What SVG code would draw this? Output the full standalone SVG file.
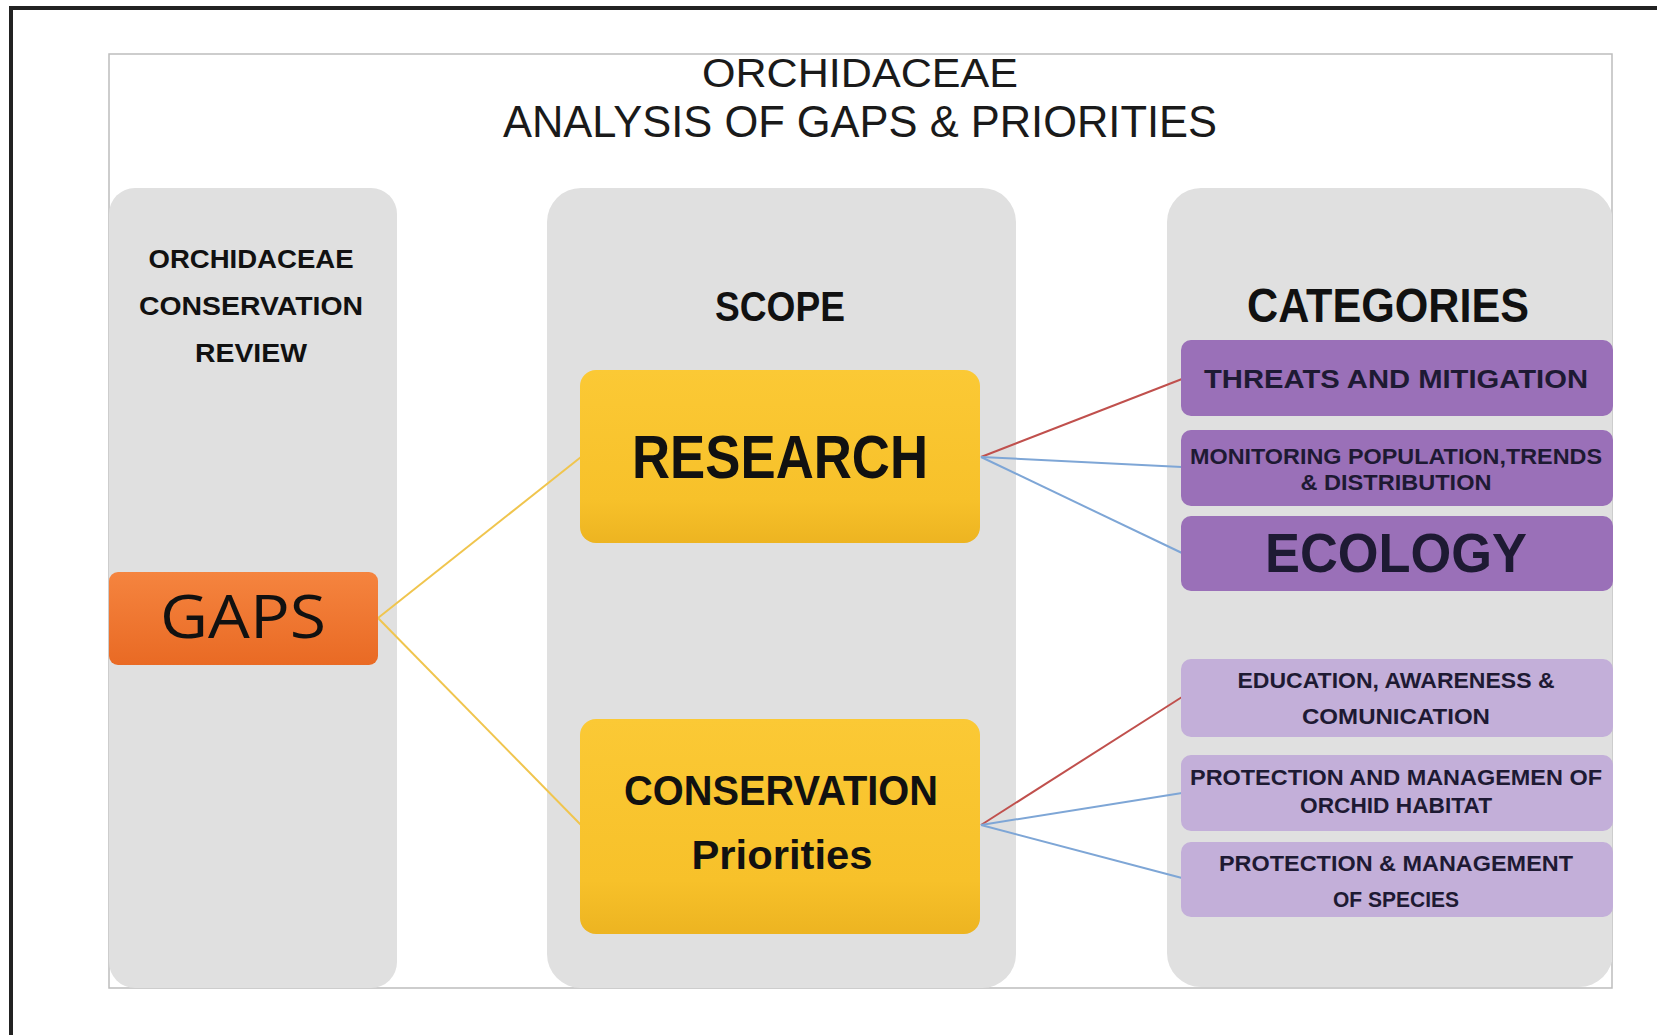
<svg xmlns="http://www.w3.org/2000/svg" width="1657" height="1035" viewBox="0 0 1657 1035">
  <defs>
    <linearGradient id="gOrange" x1="0" y1="0" x2="0" y2="1">
      <stop offset="0" stop-color="#F5843F"/>
      <stop offset="1" stop-color="#E96A24"/>
    </linearGradient>
    <linearGradient id="gYellow" x1="0" y1="0" x2="0" y2="1">
      <stop offset="0" stop-color="#FBC935"/>
      <stop offset="0.75" stop-color="#F7C12A"/>
      <stop offset="1" stop-color="#EDB421"/>
    </linearGradient>
    <clipPath id="panelClip">
      <rect x="109" y="54" width="1503" height="934"/>
    </clipPath>
  </defs>
  <style>
    .col { fill: #E0E0E0; }
    .hdr { font-family: "Liberation Sans", Arial, sans-serif; font-weight: bold; fill: #111; text-anchor: middle; }
    .title { font-family: "Liberation Sans", Arial, sans-serif; fill: #1a1a1a; text-anchor: middle; }
    .cat { font-family: "Liberation Sans", Arial, sans-serif; font-weight: bold; fill: #1E1A33; text-anchor: middle; }
    .dark { fill: #9A70B8; }
    .light { fill: #C3AFD9; }
    .link { fill: none; stroke-width: 2; }
    .gold { stroke: #F0C54E; }
    .red { stroke: #C0504D; }
    .blue { stroke: #7EA6D6; }
  </style>

  <rect width="1657" height="1035" fill="#FFFFFF"/>
  <!-- outer frame (top and left edges) -->
  <path d="M11 1035 V8 H1657" fill="none" stroke="#222" stroke-width="4"/>

  <!-- white panel -->
  <rect x="109" y="54" width="1503" height="934" fill="#FFFFFF" stroke="#BDBDBD" stroke-width="1.5"/>

  <g id="title">
    <text class="title" x="860" y="87" font-size="40" textLength="316" lengthAdjust="spacingAndGlyphs">ORCHIDACEAE</text>
    <text class="title" x="860" y="137" font-size="45" textLength="714" lengthAdjust="spacingAndGlyphs">ANALYSIS OF GAPS &amp; PRIORITIES</text>
  </g>

  <g clip-path="url(#panelClip)">
    <g id="col-review">
      <rect class="col" x="109" y="188" width="288" height="800" rx="26"/>
      <text class="hdr" x="251" y="268" font-size="25" textLength="205" lengthAdjust="spacingAndGlyphs">ORCHIDACEAE</text>
      <text class="hdr" x="251" y="315" font-size="25" textLength="224" lengthAdjust="spacingAndGlyphs">CONSERVATION</text>
      <text class="hdr" x="251" y="362" font-size="25" textLength="112" lengthAdjust="spacingAndGlyphs">REVIEW</text>
    </g>
    <g id="col-scope">
      <rect class="col" x="547" y="188" width="469" height="800" rx="34"/>
      <text class="hdr" x="780" y="321" font-size="43" textLength="130" lengthAdjust="spacingAndGlyphs">SCOPE</text>
    </g>
    <g id="col-categories">
      <rect class="col" x="1167" y="188" width="446" height="799" rx="34"/>
      <text class="hdr" x="1388" y="322" font-size="48" textLength="282" lengthAdjust="spacingAndGlyphs">CATEGORIES</text>
    </g>
  </g>

  <!-- connectors -->
  <g id="connectors">
    <line class="link gold" x1="378" y1="618" x2="581" y2="457"/>
    <line class="link gold" x1="378" y1="618" x2="581" y2="825"/>
    <line class="link red" x1="981" y1="457" x2="1182" y2="379"/>
    <line class="link blue" x1="981" y1="457" x2="1182" y2="467"/>
    <line class="link blue" x1="981" y1="457" x2="1182" y2="553"/>
    <line class="link red" x1="981" y1="825" x2="1182" y2="697"/>
    <line class="link blue" x1="981" y1="825" x2="1182" y2="793"/>
    <line class="link blue" x1="981" y1="825" x2="1182" y2="878"/>
  </g>

  <g id="gaps">
    <rect x="109" y="572" width="269" height="93" rx="9" fill="url(#gOrange)"/>
    <text x="243" y="638" font-family="Open Sans, Liberation Sans, sans-serif" font-size="60" fill="#111" text-anchor="middle" textLength="166" lengthAdjust="spacingAndGlyphs">GAPS</text>
  </g>

  <g id="research">
    <rect x="580" y="370" width="400" height="173" rx="16" fill="url(#gYellow)"/>
    <text class="hdr" x="780" y="478" font-size="61" textLength="296" lengthAdjust="spacingAndGlyphs">RESEARCH</text>
  </g>

  <g id="conservation">
    <rect x="580" y="719" width="400" height="215" rx="16" fill="url(#gYellow)"/>
    <text class="hdr" x="781" y="805" font-size="42" textLength="314" lengthAdjust="spacingAndGlyphs">CONSERVATION</text>
    <text class="hdr" x="782" y="869" font-size="40" textLength="181" lengthAdjust="spacingAndGlyphs">Priorities</text>
  </g>

  <g id="threats">
    <rect class="dark" x="1181" y="340" width="432" height="76" rx="10"/>
    <text class="cat" x="1396" y="388" font-size="25" textLength="384" lengthAdjust="spacingAndGlyphs">THREATS AND MITIGATION</text>
  </g>

  <g id="monitoring">
    <rect class="dark" x="1181" y="430" width="432" height="76" rx="10"/>
    <text class="cat" x="1396" y="464" font-size="22" textLength="412" lengthAdjust="spacingAndGlyphs">MONITORING POPULATION,TRENDS</text>
    <text class="cat" x="1396" y="490" font-size="22" textLength="191" lengthAdjust="spacingAndGlyphs">&amp; DISTRIBUTION</text>
  </g>

  <g id="ecology">
    <rect class="dark" x="1181" y="516" width="432" height="75" rx="10"/>
    <text class="cat" x="1396" y="572" font-size="56" fill="#0d0b14" textLength="262" lengthAdjust="spacingAndGlyphs">ECOLOGY</text>
  </g>

  <g id="education">
    <rect class="light" x="1181" y="659" width="432" height="78" rx="10"/>
    <text class="cat" x="1396" y="688" font-size="22" textLength="317" lengthAdjust="spacingAndGlyphs">EDUCATION, AWARENESS &amp;</text>
    <text class="cat" x="1396" y="724" font-size="22" textLength="188" lengthAdjust="spacingAndGlyphs">COMUNICATION</text>
  </g>

  <g id="habitat">
    <rect class="light" x="1181" y="755" width="432" height="76" rx="10"/>
    <text class="cat" x="1396" y="785" font-size="22" textLength="412" lengthAdjust="spacingAndGlyphs">PROTECTION AND MANAGEMEN OF</text>
    <text class="cat" x="1396" y="813" font-size="22" textLength="192" lengthAdjust="spacingAndGlyphs">ORCHID HABITAT</text>
  </g>

  <g id="species">
    <rect class="light" x="1181" y="842" width="432" height="75" rx="10"/>
    <text class="cat" x="1396" y="871" font-size="22" textLength="354" lengthAdjust="spacingAndGlyphs">PROTECTION &amp; MANAGEMENT</text>
    <text class="cat" x="1396" y="907" font-size="22" textLength="126" lengthAdjust="spacingAndGlyphs">OF SPECIES</text>
  </g>
</svg>
